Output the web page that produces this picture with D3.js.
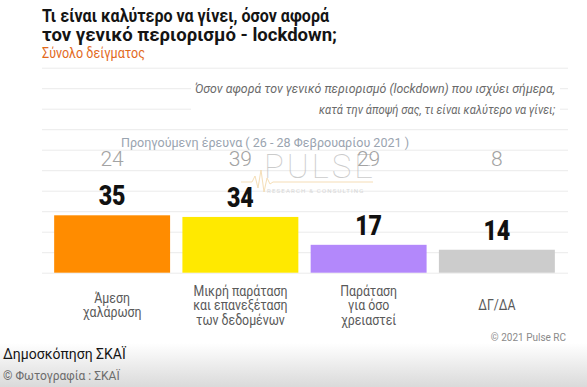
<!DOCTYPE html>
<html>
<head>
<meta charset="utf-8">
<script src="https://cdn.jsdelivr.net/npm/d3@7"></script>
<style>
    body { margin: 0; background: #fff; }
    svg { display: block; font-family: Roboto, "Noto Sans", sans-serif; }
</style>
</head>
<body>
<div id="chart"></div>
<script>
// data
const categories = ["Άμεση χαλάρωση", "Μικρή παράταση και επανεξέταση των δεδομένων", "Παράταση για όσο χρειαστεί", "ΔΓ/ΔΑ"]
const categoryLines = [["Άμεση", "χαλάρωση"], ["Μικρή παράταση", "και επανεξέταση", "των δεδομένων"], ["Παράταση", "για όσο", "χρειαστεί"], ["ΔΓ/ΔΑ"]]
const currentValues = [35, 34, 17, 14]
const previousValues = [24, 39, 29, 8]
const barColors = ["#ff8c00", "#ffe900", "#b388fb", "#cccccc"]

const titleLines = ["Τι είναι καλύτερο να γίνει, όσον αφορά", "τον γενικό περιορισμό - lockdown;"]
const subtitle = "Σύνολο δείγματος"
const questionLines = ["Όσον αφορά τον γενικό περιορισμό (lockdown) που ισχύει σήμερα,", "κατά την άποψή σας, τι είναι καλύτερο να γίνει;"]
const previousLabel = "Προηγούμενη έρευνα ( 26 - 28 Φεβρουαρίου 2021 )"

const W = 587, H = 387
const plot = {left: 42, right: 568, top: 67.7, bottom: 272.7}

const svg = d3.select("#chart").append("svg")
    .attr("width", W)
    .attr("height", H)

// grey fade behind the caption at the bottom
const defs = svg.append("defs")
const grad = defs.append("linearGradient").attr("id", "fade").attr("x1", 0).attr("y1", 0).attr("x2", 0).attr("y2", 1)
grad.append("stop").attr("offset", "0%").attr("stop-color", "#ffffff")
grad.append("stop").attr("offset", "100%").attr("stop-color", "#dadada")
svg.append("rect").attr("x", 0).attr("y", 343).attr("width", W).attr("height", H - 343).attr("fill", "url(#fade)")

// scales
const x = d3.scaleBand()
    .domain(categories)
    .range([48, 561])
    .paddingInner(0.096)
    .paddingOuter(0.048)

const y = d3.scaleLinear()
    .domain([0, 125])
    .range([plot.bottom, plot.top])

// faint horizontal grid
svg.append("g")
    .attr("class", "grid")
    .attr("transform", `translate(${plot.left},0)`)
    .call(d3.axisLeft(y).tickValues(d3.range(0, 126, 12.5)).tickSize(-(plot.right - plot.left)).tickFormat(""))
    .call(g => g.select(".domain").remove())
    .selectAll("line")
    .attr("stroke", "#ebebeb")
    .attr("stroke-width", 1)

// helper for the narrow look of the original typeface
function squeeze(sel, px, py, sx) {
    return sel.attr("transform", `translate(${px},${py}) scale(${sx},1)`)
}

// title
titleLines.forEach((line, i) => {
    squeeze(svg.append("text"), 42, 22 + i * 19, 1)
        .attr("font-size", 18)
        .attr("font-weight", 700)
        .attr("fill", "#141414")
        .attr("textLength", i == 0 ? 287 : 295)
        .attr("lengthAdjust", "spacingAndGlyphs")
        .text(line)
})
svg.append("text")
    .attr("x", 42).attr("y", 58)
    .attr("font-size", 14)
    .attr("fill", "#e2691c")
    .attr("textLength", 103)
    .attr("lengthAdjust", "spacingAndGlyphs")
    .text(subtitle)

// question box (white patch over the grid)
svg.append("rect").attr("x", 191).attr("y", 78).attr("width", 369).attr("height", 42).attr("fill", "#fff")
questionLines.forEach((line, i) => {
    svg.append("text")
        .attr("x", 555).attr("y", 93 + i * 21)
        .attr("text-anchor", "end")
        .attr("font-size", 13)
        .attr("font-style", "italic")
        .attr("fill", "#6a6a6a")
        .attr("textLength", i == 0 ? 360 : 236)
        .attr("lengthAdjust", "spacingAndGlyphs")
        .text(line)
})

// watermark
const wm = svg.append("g").attr("opacity", 0.8)
wm.append("path")
    .attr("d", "M241,182 L252,182 L255,176 L258,188 L261,170 L264,192 L267,178 L270,184 L273,182 L373,182")
    .attr("fill", "none").attr("stroke", "#f3d7a6").attr("stroke-width", 1)
wm.append("text")
    .attr("x", 264).attr("y", 178)
    .attr("font-size", 33).attr("font-weight", 100)
    .attr("letter-spacing", 3)
    .attr("fill", "#bfbfbf")
    .text("PULSE")
wm.append("text")
    .attr("x", 267).attr("y", 193)
    .attr("font-size", 6)
    .attr("letter-spacing", 1.2)
    .attr("fill", "#d0d0d0")
    .text("RESEARCH & CONSULTING")

// previous survey
svg.append("text")
    .attr("x", 121).attr("y", 147)
    .attr("font-size", 13)
    .attr("fill", "#9aa4b0")
    .attr("textLength", 288)
    .attr("lengthAdjust", "spacingAndGlyphs")
    .text(previousLabel)

svg.selectAll(".prev")
    .data(previousValues)
    .enter()
    .append("text")
    .attr("class", "prev")
    .attr("x", (d, i) => x(categories[i]) + x.bandwidth() / 2)
    .attr("y", 166)
    .attr("text-anchor", "middle")
    .attr("font-size", 21)
    .attr("font-weight", 300)
    .attr("fill", "#a3a3a3")
    .text(d => d)

// bars
svg.selectAll(".bar")
    .data(currentValues)
    .enter()
    .append("rect")
    .attr("class", "bar")
    .attr("x", (d, i) => x(categories[i]))
    .attr("y", d => y(d))
    .attr("width", x.bandwidth())
    .attr("height", d => y(0) - y(d))
    .attr("fill", (d, i) => barColors[i])

// bar values
svg.selectAll(".value")
    .data(currentValues)
    .enter()
    .append("text")
    .attr("class", "value")
    .each(function (d, i) {
        squeeze(d3.select(this), x(categories[i]) + x.bandwidth() / 2, y(d) - 10, 0.86)
    })
    .attr("text-anchor", "middle")
    .attr("font-size", 27)
    .attr("font-weight", 900)
    .attr("fill", "#111")
    .text(d => d)

// category labels, centred vertically under each bar
categoryLines.forEach((lines, i) => {
    const cx = x(categories[i]) + x.bandwidth() / 2
    const first = 310 - (lines.length - 1) * 14.5 / 2
    lines.forEach((line, j) => {
        squeeze(svg.append("text"), cx, first + j * 14.5, 0.88)
            .attr("text-anchor", "middle")
            .attr("font-size", 14)
            .attr("fill", "#595959")
            .text(line)
    })
})

svg.append("text")
    .attr("x", 566).attr("y", 341)
    .attr("text-anchor", "end")
    .attr("font-size", 10)
    .attr("fill", "#8a8a8a")
    .text("© 2021 Pulse RC")

// caption under the picture
svg.append("text")
    .attr("x", 3).attr("y", 359)
    .attr("font-size", 14)
    .attr("fill", "#151515")
    .text("Δημοσκόπηση ΣΚΑΪ")
svg.append("text")
    .attr("x", 3).attr("y", 380)
    .attr("font-size", 12)
    .attr("fill", "#6c6c6c")
    .text("© Φωτογραφία : ΣΚΑΪ")
</script>
</body>
</html>
